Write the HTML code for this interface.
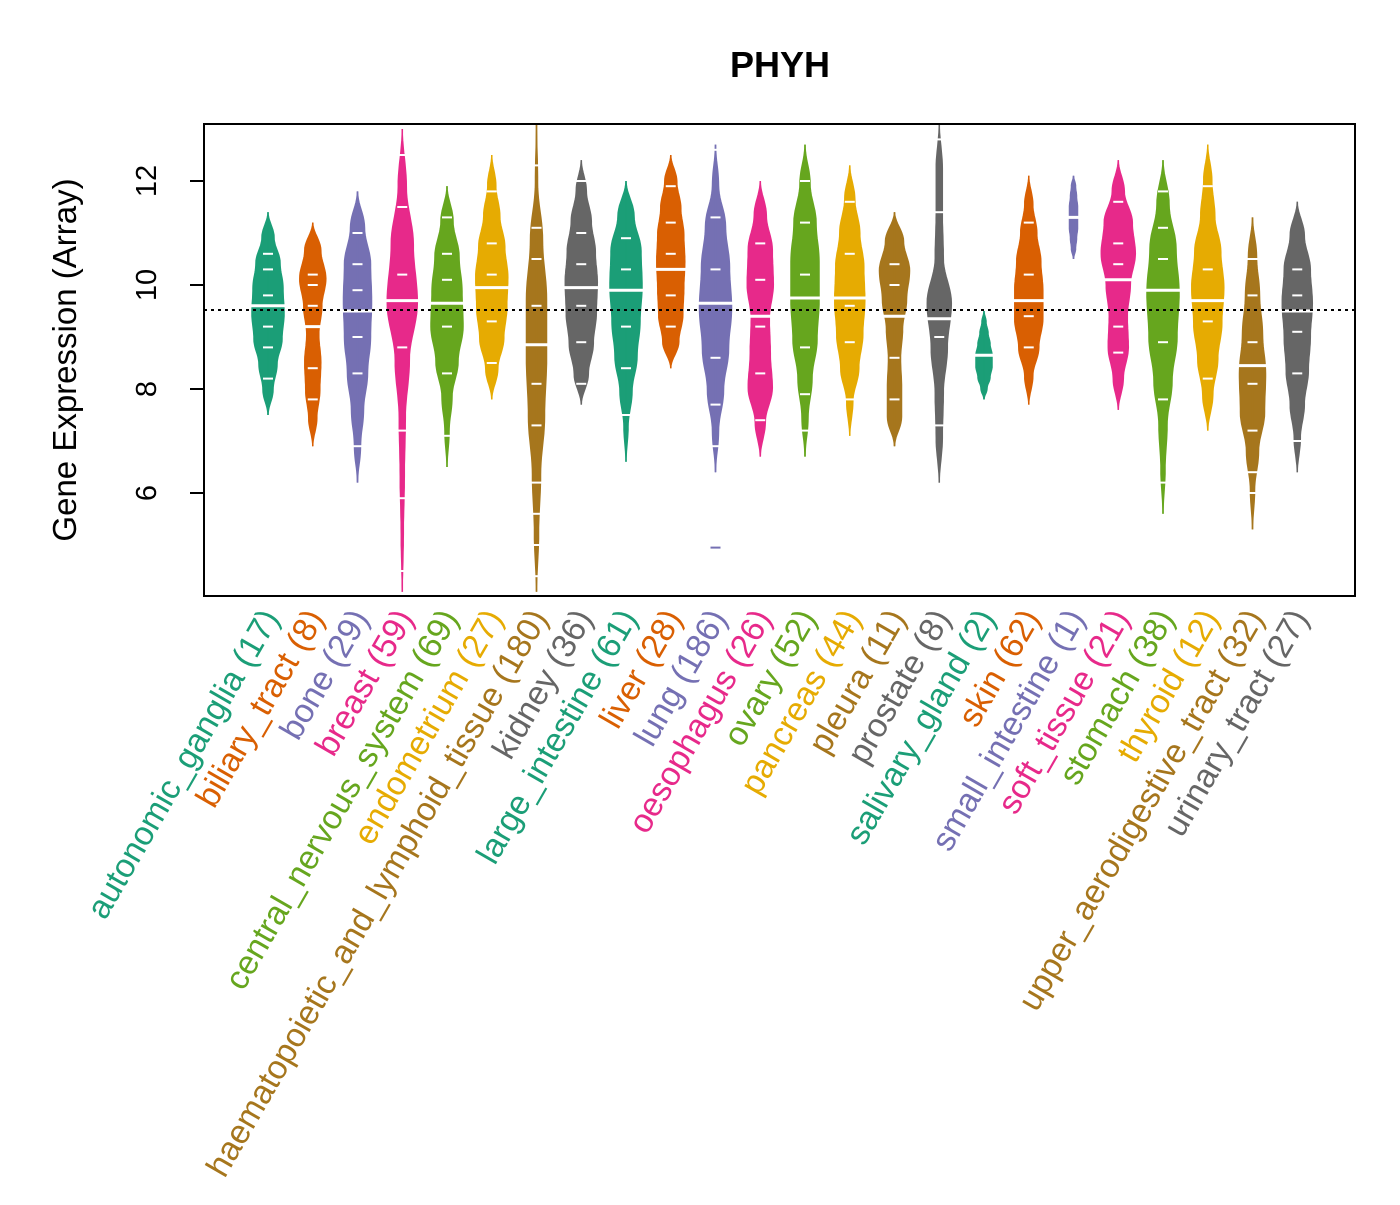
<!DOCTYPE html>
<html><head><meta charset="utf-8"><style>
body{margin:0;background:#fff}
svg text{font-family:"Liberation Sans",Arial,sans-serif}
</style></head><body>
<svg id="chart" width="1400" height="1200" xmlns="http://www.w3.org/2000/svg">
<text x="780" y="77" text-anchor="middle" font-size="36" font-weight="bold">PHYH</text>
<text transform="translate(76,360) rotate(-90)" text-anchor="middle" font-size="33">Gene Expression (Array)</text>
<g id="marks"></g>
<rect x="204" y="124" width="1151" height="472" fill="none" stroke="#000" stroke-width="2"/>
</svg>
<script>
const categories=["autonomic_ganglia (17)","biliary_tract (8)","bone (29)","breast (59)","central_nervous_system (69)","endometrium (27)","haematopoietic_and_lymphoid_tissue (180)","kidney (36)","large_intestine (61)","liver (28)","lung (186)","oesophagus (26)","ovary (52)","pancreas (44)","pleura (11)","prostate (8)","salivary_gland (2)","skin (62)","small_intestine (1)","soft_tissue (21)","stomach (38)","thyroid (12)","upper_aerodigestive_tract (32)","urinary_tract (27)"];
const lows=[7.5,6.9,6.2,4.1,6.5,7.8,4.1,7.7,6.6,8.4,6.4,6.7,6.7,7.1,6.9,6.2,7.8,7.7,10.5,7.6,5.6,7.2,5.3,6.4];
const highs=[11.4,11.2,11.8,13,11.9,12.5,13.1,12.4,12,12.5,12.7,12,12.7,12.3,11.4,13.1,9.5,12.1,12.1,12.4,12.4,12.7,11.3,11.6];
const medians=[9.6,9.2,9.5,9.7,9.65,9.95,8.85,9.95,9.9,10.3,9.65,9.4,9.75,9.75,9.4,9.35,8.65,9.7,11.3,10.1,9.9,9.7,8.45,9.5];
const profiles=[[0,5,9,14,16,15,12,6,0],[0,4,7,8,6,9,13,8,0],[0,3,6,10,13,14,13,7,0],[0,1,2,3,7,15,11,4,0],[0,2,5,11,16,15,12,6,0],[0,6,12,15,16,13,8,4,0],[0,2,4,8,10,10,6,1,0],[0,7,12,15,16,14,10,5,0],[0,2,6,11,14,16,15,8,0],[0,8,12,13,14,13,10,6,0],[0,3,8,13,16,14,10,3,0],[0,5,12,10,9,13,12,6,0],[0,3,7,12,14,14,11,5,0],[0,3,9,13,15,14,10,5,0],[0,7,7,6,8,12,15,9,0],[0,3,4,8,12,4,3,3,0],[0,3,6,8,8,6,4,2,0],[0,4,10,14,14,12,8,4,0],[0,2,3,4,4,4,3,2,0],[0,5,10,9,12,17,14,6,0],[0,2,4,9,14,16,13,6,0],[0,5,10,14,16,13,7,4,0],[0,2,6,12,13,10,7,4,0],[0,3,7,11,13,15,13,7,0]];
const points=[[8.2,8.8,9.2,9.8,10.3,10.6],[7.8,8.4,9.6,10,10.2],[6.9,8.3,9,9.9,10.4,11],[4.5,5.9,7.2,8.8,10.2,11.5,12.5],[7.1,8.3,9.2,10.1,10.6,11.3],[8.5,9.3,10.2,10.8,11.8],[4.4,5,5.6,6.2,7.3,8.1,9.6,10.5,11.1,12.3],[8.1,8.9,9.6,10.4,11,12],[7.5,8.4,9.2,10.3,10.9],[9.2,9.8,10.6,11.2,11.9],[4.95,6.9,7.7,8.6,10.3,11.3,12.6],[7.4,8.3,9.2,10.1,10.8],[7.2,7.9,8.8,10.2,11.2,12],[7.8,8.9,9.6,10.6,11.6],[7.8,8.6,10,10.4],[7.3,9,11.4,12.8],[8.65],[8.8,9.4,10.2,11.2],[11.3],[8.7,9.2,10.4,10.8,11.6],[6.2,7.8,8.9,10.5,11.1,11.8],[8.2,9.3,10.3,11.9],[6,6.4,7.2,8.1,8.9,9.8,10.5],[7,8.3,9.1,9.8,10.3]];
const overall=9.52;
const yTicks=[6,8,10,12];
const palette=["#1B9E77","#D95F02","#7570B3","#E7298A","#66A61E","#E6AB02","#A6761D","#666666"];
const NS="http://www.w3.org/2000/svg";
const X0=204,X1=1355,Y0=124,Y1=596;
function yScale(v){return 285-(v-10)*52;}
function xScale(i){return 268+i*44.75;}
const marks=document.getElementById('marks');
function mk(tag,attrs,parent){const e=document.createElementNS(NS,tag);for(const k in attrs)e.setAttribute(k,attrs[k]);(parent||marks).appendChild(e);return e;}
yTicks.forEach(t=>{
  const l=mk('line',{x1:X0,x2:X0-14,y1:yScale(t),y2:yScale(t),stroke:'#000','stroke-width':2});
  
  
  const tx=mk('text',{transform:`translate(${X0-58},${yScale(t)}) rotate(-90)`,'text-anchor':'middle','font-size':29,dy:'0.35em'});
  tx.textContent=t;
  
  
});
const ax=mk('line',{x1:X0,x2:X0,y1:yScale(yTicks[0]),y2:yScale(yTicks[yTicks.length-1]),stroke:'#000','stroke-width':2});


categories.forEach((c,i)=>{
  const col=palette[i%8],cx=xScale(i),lo=lows[i],hi=highs[i],pr=profiles[i];
  const n=pr.length-1,steps=80,L=[],R=[];
  for(let s=0;s<=steps;s++){
    const f=s/steps*n,k=Math.min(Math.floor(f),n-1),t=f-k,tt=(1-Math.cos(t*Math.PI))/2;
    const w=pr[k]*(1-tt)+pr[k+1]*tt;
    const v=lo+(hi-lo)*s/steps;
    L.push([cx-w,yScale(v)]);R.push([cx+w,yScale(v)]);
  }
  const pts=L.concat(R.reverse());
  const p=mk('path',{d:'M'+pts.map(q=>q[0].toFixed(1)+','+q[1].toFixed(1)).join('L')+'Z',fill:col,stroke:col,'stroke-width':1.5});
  
  
  const cl=mk('line',{x1:cx,x2:cx,y1:yScale(hi),y2:yScale(lo),stroke:col,'stroke-width':1.5});
  
  
  points[i].forEach(v=>{
    const inside=v>lo&&v<hi;
    const pl=mk('line',{x1:cx-5,x2:cx+5,y1:yScale(v),y2:yScale(v),stroke:inside?'#fff':col,'stroke-width':2});
    
    
  });
  const ml=mk('line',{x1:cx-17,x2:cx+17,y1:yScale(medians[i]),y2:yScale(medians[i]),stroke:'#fff','stroke-width':3});
  
  
  const lb=mk('text',{transform:`translate(${cx+2},${612}) rotate(-60)`,'text-anchor':'end','font-size':33.5,fill:col,dy:'0.35em'});
  lb.textContent=c;
  
  
});
const ol=mk('line',{x1:X0,x2:X1,y1:yScale(overall),y2:yScale(overall),stroke:'#000','stroke-width':2,'stroke-dasharray':'3,4'});


</script>
</body></html>
